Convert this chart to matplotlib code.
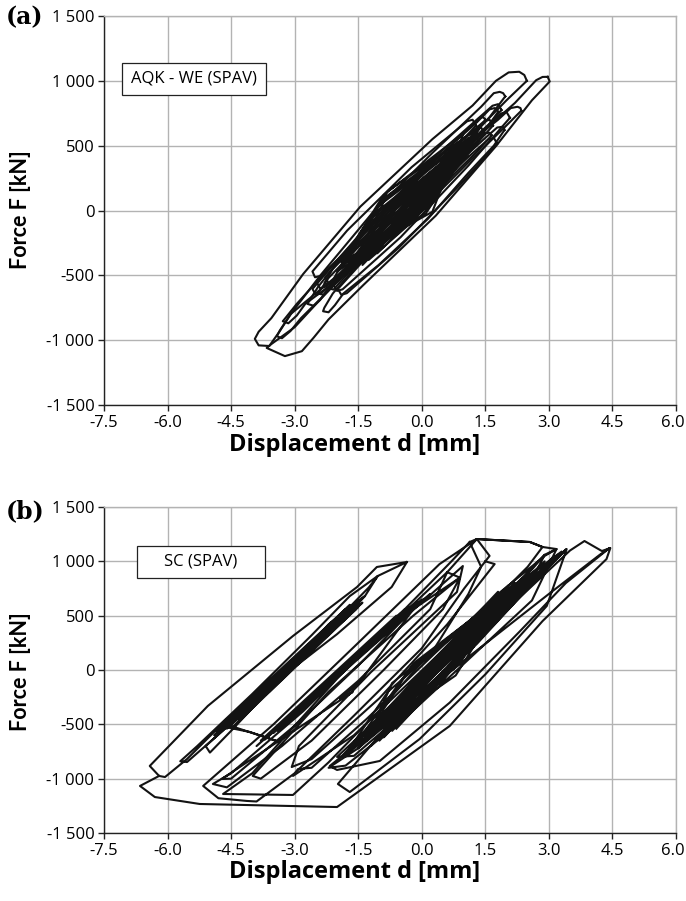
import matplotlib
matplotlib.use("Agg")
import matplotlib.pyplot as plt
from matplotlib.patches import Rectangle
from matplotlib.transforms import ScaledTranslation

# ---------------- data ----------------
x_ticks = [-7.5, -6.0, -4.5, -3.0, -1.5, 0.0, 1.5, 3.0, 4.5, 6.0]
y_ticks = [-1500, -1000, -500, 0, 500, 1000, 1500]
y_tick_labels = ["-1 500", "-1 000", "-500", "0", "500", "1 000", "1 500"]

# Panel (a): AQK - WE (SPAV) -- large loops, one list per loop (displacement mm, force kN)
a_loop1 = [(2.48, 1000), (2.42, 1045), (2.3, 1070), (2.05, 1065), (1.75, 1000), (1.2, 810),
           (0.25, 550), (-1.45, 30), (-2.8, -490), (-3.55, -830), (-3.85, -935), (-3.94, -990),
           (-3.85, -1040), (-3.6, -1045), (-3.35, -930), (-3.1, -800), (-1.95, -490), (-0.25, 30),
           (1.1, 550), (2.0, 850), (2.48, 1000)]
a_loop2 = [(2.97, 1031), (2.85, 1030), (2.7, 1005), (2.2, 830), (1.05, 496), (-0.67, -40),
           (-2.08, -575), (-3.0, -900), (-3.55, -1030), (-3.66, -1060), (-3.23, -1123),
           (-2.83, -1085), (-2.55, -980), (-2.2, -840), (-1.38, -575), (0.33, -40), (1.75, 496),
           (2.6, 850), (3.02, 995), (2.97, 1031)]
a_loop3 = [(1.97, 880), (1.92, 905), (1.84, 915), (1.7, 905), (1.4, 800), (0.25, 444),
           (-1.19, -28), (-2.39, -499), (-3.05, -780), (-3.35, -925), (-3.42, -970), (-3.3, -985),
           (-3.1, -930), (-2.85, -830), (-1.83, -499), (-0.39, -28), (0.8, 444), (1.6, 720),
           (1.97, 880)]
a_loop4 = [(2.35, 770), (2.33, 790), (2.26, 800), (2.1, 790), (1.8, 700), (0.6, 387),
           (-0.91, -27), (-2.18, -441), (-2.95, -720), (-3.22, -830), (-3.28, -854),
           (-3.15, -870), (-2.95, -810), (-2.75, -720), (-1.6, -441), (-0.11, -27), (1.15, 387),
           (1.95, 640), (2.35, 770)]
a_loop5 = [(1.8, 760), (1.78, 780), (1.72, 790), (1.6, 780), (1.3, 680), (0.37, 412),
           (-0.84, 35), (-1.85, -343), (-2.45, -590), (-2.66, -700), (-2.7, -720), (-2.55, -735),
           (-2.4, -690), (-2.2, -600), (-1.35, -343), (-0.14, 35), (0.86, 412), (1.5, 620),
           (1.8, 760)]
a_loop6 = [(1.95, 620), (1.94, 635), (1.91, 646), (1.78, 640), (1.5, 560), (0.6, 290),
           (-0.56, -66), (-1.52, -421), (-2.1, -640), (-2.3, -750), (-2.33, -777), (-2.2, -785),
           (-2.05, -730), (-1.85, -640), (-1.02, -421), (0.14, -66), (1.1, 290), (1.7, 500),
           (1.95, 620)]
a_loop7 = [(1.5, 700), (1.45, 720), (1.35, 712), (1.1, 630), (0.34, 390), (-0.675, 60),
           (-1.49, -270), (-2.0, -480), (-2.2, -600), (-2.08, -610), (-1.95, -560), (-1.7, -470),
           (-1.09, -270), (-0.075, 60), (0.74, 390), (1.25, 580), (1.5, 700)]
a_loop8 = [(1.65, 580), (1.6, 600), (1.48, 595), (1.2, 500), (0.39, 290), (-0.725, -20),
           (-1.64, -330), (-2.2, -520), (-2.45, -640), (-2.32, -650), (-2.15, -590),
           (-1.95, -520), (-1.24, -330), (-0.125, -20), (0.79, 290), (1.35, 470), (1.65, 580)]
a_loop9 = [(1.35, 540), (1.3, 560), (1.18, 555), (0.95, 470), (0.22, 280), (-0.75, 0),
           (-1.58, -280), (-2.1, -450), (-2.3, -560), (-2.18, -570), (-2.0, -510), (-1.8, -440),
           (-1.22, -280), (-0.25, 0), (0.58, 280), (1.1, 440), (1.35, 540)]
a_mid = [(1.68, 655), (1.6, 700), (1.47, 688), (0.16, 322), (-1.36, -182), (-2.28, -515),
         (-2.2, -560), (-2.07, -548), (-0.76, -182), (0.76, 322), (1.68, 655),
         (1.88, 775), (1.8, 820), (1.67, 808), (0.19, 379), (-1.53, -209), (-2.58, -605),
         (-2.5, -650), (-2.37, -638), (-0.89, -209), (0.83, 379), (1.88, 775),
         (1.48, 595), (1.4, 640), (1.27, 628), (-0.04, 268), (-1.56, -228), (-2.48, -555),
         (-2.4, -600), (-2.27, -588), (-0.96, -228), (0.56, 268), (1.48, 595),
         (2.08, 715), (2.0, 760), (1.87, 748), (0.5, 346), (-1.1, -206), (-2.08, -575),
         (-2.0, -620), (-1.87, -608), (-0.5, -206), (1.1, 346), (2.08, 715),
         (1.28, 655), (1.2, 700), (1.07, 688), (-0.24, 334), (-1.76, -154), (-2.58, -470),
         (-2.52, -515), (-2.4, -505), (-1.16, -154), (0.36, 334), (1.28, 655),
         (1.78, 515), (1.7, 560), (1.57, 548), (0.34, 197), (-1.1, -287), (-1.98, -605),
         (-1.9, -650), (-1.77, -638), (-0.54, -287), (0.9, 197), (1.78, 515)]

# Panel (a): dense core of small loops
a_core = [
    (1.21, 570), (-0.55, 85), (-1.71, -400), (0.05, 85),
    (1.45, 620), (-0.5, 60), (-1.85, -500), (0.1, 60),
    (1.05, 500), (-0.45, 85), (-1.45, -330), (0.05, 85),
    (1.15, 470), (-0.63, 5), (-1.8, -460), (-0.03, 5),
    (0.85, 430), (-0.55, 65), (-1.35, -300), (0.05, 65),
    (1.35, 540), (-0.15, 145), (-1.15, -250), (0.35, 145),
    (0.65, 340), (-0.7, -40), (-1.55, -420), (-0.2, -40),
    (0.95, 380), (-0.2, 90), (-0.95, -200), (0.2, 90),
    (0.45, 280), (-0.5, -25), (-1.05, -330), (-0.1, -25),
    (0.55, 250), (-0.55, -65), (-1.25, -380), (-0.15, -65),
    (0.75, 300), (-0.2, 50), (-0.75, -200), (0.2, 50),
    (0.35, 200), (-0.35, 25), (-0.75, -150), (-0.05, 25),
    (1.1, 420), (-0.35, 40), (-1.55, -350), (0.15, 40),
    (1.3, 600), (-0.4, 110), (-1.6, -380), (0.2, 110),
    (0.7, 380), (-0.65, 20), (-1.4, -420), (-0.1, 20),
    (1.1, 560), (-1.0, 40), (-1.9, -430), (0.2, 40),
    (1.25, 620), (-0.95, 80), (-1.75, -380), (0.25, 80),
    (0.95, 520), (-1.1, -20), (-2.0, -470), (0.1, -20),
    (1.3, 580), (-0.85, 100), (-1.65, -440), (0.3, 100),
    (1.0, 600), (-0.9, 120), (-1.8, -350), (0.15, 120),
    (1.15, 500), (-1.05, -10), (-1.9, -400), (0.25, -10),
    (0.8, 460), (-0.9, 0), (-1.6, -450), (0.0, 0),
    (1.4, 650), (-0.8, 150), (-1.7, -300), (0.35, 150),
    (1.0, 480),
]

# Panel (b): SC (SPAV) -- left loop family
b_left = [
    (-0.35, 994), (-0.71, 764), (-2.0, 330), (-3.58, -147), (-4.83, -543), (-5.54, -819),
    (-6.06, -985), (-6.2, -975), (-6.42, -883), (-5.05, -331), (-3.04, 313), (-1.53, 763),
    (-1.06, 948), (-0.35, 994),
    (-1.04, 865), (-1.25, 760), (-2.4, 300), (-3.6, -150), (-4.7, -560), (-5.54, -847),
    (-5.7, -840), (-5.3, -700), (-4.0, -220), (-2.6, 320), (-1.7, 680), (-1.04, 865),
    (-1.34, 681), (-1.8, 540), (-3.0, 80), (-4.2, -380), (-5.1, -700), (-5.0, -760),
    (-4.5, -560), (-3.3, -60), (-2.2, 420), (-1.34, 681),
    (-1.6, 570), (-4.6, -500), (-1.7, 540), (-4.5, -470), (-1.55, 590), (-4.7, -530),
    (-1.8, 500), (-4.4, -440), (-1.65, 560), (-4.75, -520), (-1.5, 610), (-4.55, -480),
    (-1.75, 530), (-4.65, -510), (-1.6, 580), (-4.5, -500),
    (-1.45, 640), (-4.85, -560), (-1.9, 470), (-4.3, -420), (-1.4, 620), (-4.8, -580),
    (-1.85, 520), (-4.45, -520), (-1.55, 560), (-4.9, -600), (-1.7, 600), (-4.35, -450),
    (-1.5, 580), (-4.6, -540), (-1.8, 560), (-4.7, -490),
    (-3.35, -663), (-4.06, -570), (-4.76, -515), (-3.6, -200), (-2.3, 300), (-1.6, 560),
]

# Panel (b): middle loop family
b_mid = [
    (1.13, 1178), (0.7, 1000), (-0.8, 400), (-2.0, -80), (-3.2, -600), (-4.0, -950),
    (-4.69, -1141), (-3.04, -1150), (-2.2, -850), (-1.0, -370), (0.3, 200), (1.1, 700),
    (1.4, 950), (1.13, 1178),
    (1.3, 1205), (0.42, 975), (-1.5, 250), (-3.5, -500), (-5.16, -1067), (-4.8, -1180),
    (-4.13, -1205), (-3.9, -1210), (-3.0, -950), (-1.6, -420), (0.0, 200), (1.0, 750),
    (1.6, 1050), (1.3, 1205),
    (0.6, 900), (-0.9, 350), (-2.8, -380), (-4.5, -950), (-4.93, -1049), (-4.6, -1080),
    (-3.3, -700), (-1.5, -100), (0.2, 560), (0.6, 900),
    (0.9, 850), (-0.2, 500), (-2.2, -200), (-3.99, -975), (-3.8, -1000), (-2.6, -650),
    (-0.9, 0), (0.5, 560), (0.9, 850),
    (-0.2, 560), (-1.46, -110), (-1.93, -267), (-1.63, -202), (-2.4, -400), (-4.72, -1003),
    (-4.5, -1000), (-2.9, -480), (-1.5, 40), (-0.2, 560),
    (-0.2, 600), (-3.6, -600), (-0.4, 560), (-3.4, -560), (0.0, 650), (-3.8, -650),
    (-0.6, 500), (-3.2, -500), (-0.1, 620), (-3.7, -640), (-0.5, 520), (-3.5, -580),
    (0.2, 700), (-3.9, -700), (-0.3, 580), (-3.3, -520),
    (0.97, 957), (0.83, 718), (-1.2, -20), (-2.9, -700), (-3.07, -893), (-2.6, -820),
    (-1.0, -260), (0.6, 420), (1.72, 975), (1.5, 1000),
]

# Panel (b): right loop family and outer envelope
b_right = [
    (-6.2, -975), (-6.65, -1067), (-6.3, -1169), (-5.24, -1233), (-2.0, -1261), (0.66, -515),
    (2.85, 450), (4.36, 1021), (4.45, 1122), (4.25, 1095), (3.84, 1187), (3.5, 1100),
    (2.4, 700), (0.9, 170), (-0.8, -450), (-2.17, -883), (-2.0, -920), (-0.99, -837),
    (0.66, -300), (2.3, 350), (3.4, 800), (4.43, 1122), (4.2, 1060), (3.0, 700), (1.2, 150),
    (-0.6, -420), (-1.98, -1049), (-1.7, -1123), (-0.05, -635), (1.5, -40), (2.95, 589),
    (3.42, 1113), (3.0, 950), (1.8, 520), (0.0, -150), (-1.5, -720), (-2.2, -900), (-1.8, -880),
    (-0.5, -480), (1.0, 60), (2.6, 640), (3.18, 1113),
    (2.85, 1132), (2.55, 1178), (1.3, 1205), (2.55, 1178), (2.85, 1132), (2.5, 950), (1.4, 520),
    (-0.2, -80), (-1.6, -600), (-3.04, -975), (-2.92, -911), (-2.6, -900), (-1.3, -450),
    (0.3, 150), (1.8, 700), (2.9, 1050), (3.18, 1113),
    (2.9, 1060), (2.2, 780), (0.8, 250), (-0.9, -400), (-2.0, -800), (-1.6, -790), (-0.2, -320),
    (1.3, 240), (2.5, 750), (2.9, 1060),
    (2.3, 790), (-1.45, -630), (2.1, 760), (-1.3, -600), (2.4, 830), (-1.6, -660), (2.0, 700),
    (-1.2, -560), (2.5, 850), (-1.5, -640), (1.9, 700), (-1.35, -590), (2.2, 800), (-1.55, -650),
    (2.35, 780), (-1.25, -620),
    (2.7, 900), (-1.0, -520), (1.7, 650), (-1.8, -760), (2.6, 880), (-0.9, -480), (1.8, 720),
    (-1.7, -720), (2.8, 960), (-1.1, -580), (1.6, 600), (-1.9, -800), (2.45, 860), (-0.8, -440),
    (2.05, 780), (-1.65, -700), (2.9, 1000), (-1.4, -680), (1.5, 560), (-1.0, -600),
    (2.4, 850), (-0.4, -50), (-1.6, -700), (0.8, -50),
    (2.1, 760), (-0.7, -120), (-1.3, -650), (0.6, 20),
    (2.7, 920), (-0.2, 60), (-1.5, -720), (0.9, 60),
    (1.9, 700), (-0.8, -200), (-1.8, -780), (0.5, -100), (2.3, 800),
    (3.3, 1090), (-1.0, -650), (3.1, 1040), (-0.7, -560), (3.4, 1110), (-1.2, -700),
    (3.0, 1000), (-0.9, -620), (3.2, 1060), (-0.6, -540),
]

# ---------------- drawing ----------------
plt.rcParams["font.family"] = ["Lato", "DejaVu Sans"]
SANS = ["Open Sans", "DejaVu Sans"]

fig = plt.figure(figsize=(6.86, 9.01), dpi=100)
W, H = 686.0, 901.0
ax_a = fig.add_axes([104 / W, 1 - 405 / H, 572 / W, 389 / H])
ax_b = fig.add_axes([104 / W, 1 - 833 / H, 572 / W, 326 / H])

line_col = "#131313"
grid_col = "#b3b3b3"


def style(ax):
    ax.set_xlim(-7.5, 6.0)
    ax.set_ylim(-1500, 1500)
    ax.set_xticks(x_ticks)
    ax.set_xticklabels([f"{v:.1f}" for v in x_ticks])
    ax.set_yticks(y_ticks)
    ax.set_yticklabels(y_tick_labels)
    ax.grid(True, color=grid_col, lw=1.0)
    ax.set_axisbelow(True)
    for s in ["top", "right"]:
        ax.spines[s].set_color(grid_col)
        ax.spines[s].set_linewidth(1.0)
    for s in ["left", "bottom"]:
        ax.spines[s].set_color("#222222")
        ax.spines[s].set_linewidth(1.0)
    ax.tick_params(direction="out", length=4, width=1, color="#222222",
                   pad=3, top=False, right=False)
    for lab in ax.get_xticklabels() + ax.get_yticklabels():
        lab.set_family(SANS)
        lab.set_fontsize(12)
    # keep the last x label ("6.0") inside the canvas
    last = ax.get_xticklabels()[-1]
    last.set_transform(last.get_transform() + ScaledTranslation(-3 / 100, 0, fig.dpi_scale_trans))


def draw(ax, pts):
    d = [p[0] for p in pts]
    f = [p[1] for p in pts]
    ax.plot(d, f, color=line_col, lw=1.5, solid_joinstyle="round", zorder=3)


style(ax_a)
style(ax_b)
for loop in [a_loop1, a_loop2, a_loop3, a_loop4, a_loop5, a_loop6, a_loop7, a_loop8, a_loop9]:
    draw(ax_a, loop)
for i in range(0, len(a_mid), 11):
    draw(ax_a, a_mid[i:i + 11])
draw(ax_a, a_core)
draw(ax_b, b_left)
draw(ax_b, b_mid)
draw(ax_b, b_right)

# labelled boxes
ax_a.add_patch(Rectangle((-7.08, 892), 3.40, 246, facecolor="white", edgecolor="#222222",
                         lw=0.9, zorder=4))
ax_a.text(-5.38, 1015, "AQK - WE (SPAV)", ha="center", va="center", fontsize=12,
          family=SANS, zorder=5)
ax_b.add_patch(Rectangle((-6.72, 847), 3.02, 294, facecolor="white", edgecolor="#222222",
                         lw=0.9, zorder=4))
ax_b.text(-5.21, 994, "SC (SPAV)", ha="center", va="center", fontsize=12,
          family=SANS, zorder=5)

# axis titles
for xl_y, yl_y in [(445, 210), (872, 672)]:
    fig.text(355 / W, 1 - xl_y / H, "Displacement d [mm]", ha="center", va="center",
             fontsize=17, fontweight="bold", family=SANS)
    fig.text(21 / W, 1 - yl_y / H, "Force F [kN]", ha="center", va="center",
             fontsize=15.5, fontweight="bold", rotation=90)

# panel letters
SERIF = ["DejaVu Serif", "Liberation Serif"]
fig.text(25 / W, 1 - 17 / H, "(a)", ha="center", va="center", fontsize=17,
         fontweight="bold", family=SERIF)
fig.text(25 / W, 1 - 511 / H, "(b)", ha="center", va="center", fontsize=17,
         fontweight="bold", family=SERIF)

fig.savefig("out.png", dpi=100)
